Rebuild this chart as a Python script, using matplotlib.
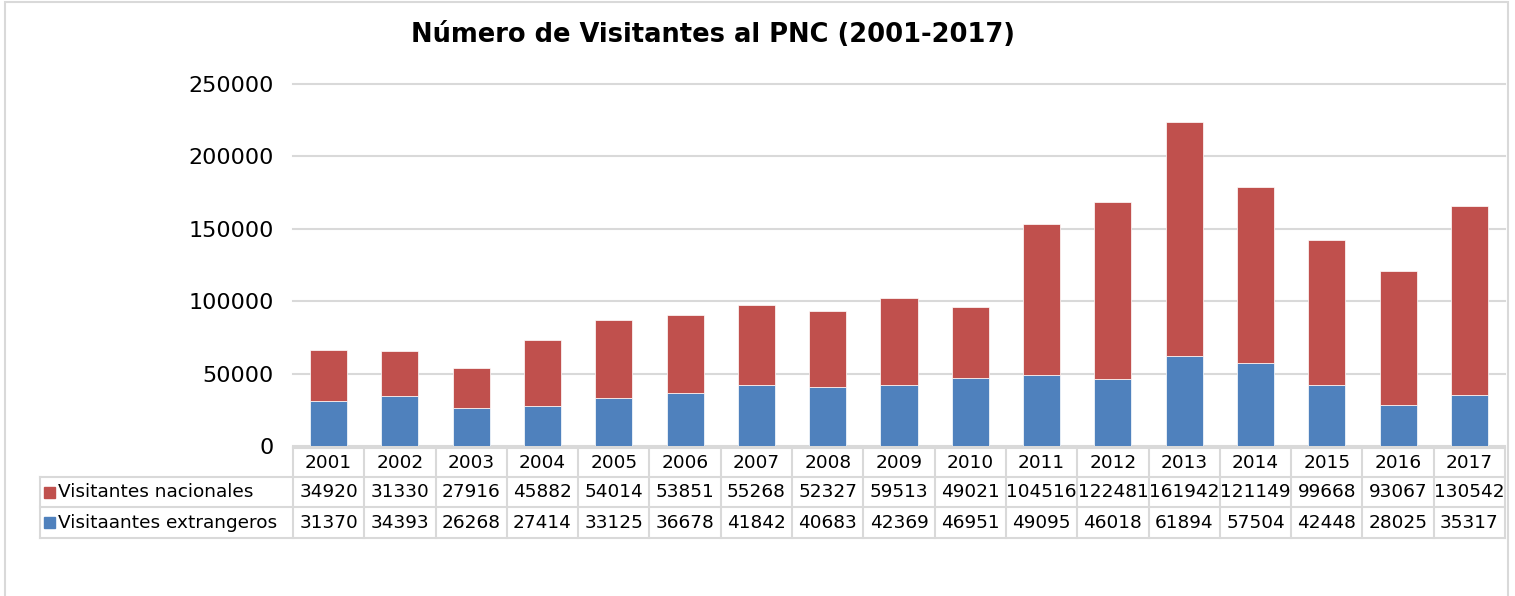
import matplotlib.pyplot as plt
import matplotlib.transforms as mtransforms
from matplotlib.patches import Rectangle
import numpy as np

years = ['2001', '2002', '2003', '2004', '2005', '2006', '2007', '2008', '2009',
         '2010', '2011', '2012', '2013', '2014', '2015', '2016', '2017']
nacionales = [34920, 31330, 27916, 45882, 54014, 53851, 55268, 52327, 59513,
              49021, 104516, 122481, 161942, 121149, 99668, 93067, 130542]
extranjeros = [31370, 34393, 26268, 27414, 33125, 36678, 41842, 40683, 42369,
               46951, 49095, 46018, 61894, 57504, 42448, 28025, 35317]
series_names = ['Visitantes nacionales', 'Visitaantes extrangeros']
y_ticks = [0, 50000, 100000, 150000, 200000, 250000]

RED = '#C0504D'
BLUE = '#4F81BD'
GRID = '#d9d9d9'

W, H = 1515, 596
fig = plt.figure(figsize=(W / 100, H / 100), dpi=100)
plt.rcParams['font.family'] = 'DejaVu Sans'

# Axes placed in pixel terms
left, right, bottom, top = 293, 1505, 446, 84
ax = fig.add_axes([left / W, 1 - bottom / H, (right - left) / W, (bottom - top) / H])

x = np.arange(len(years))
ax.bar(x, extranjeros, width=0.52, color=BLUE, edgecolor='white', linewidth=0.5, zorder=3)
ax.bar(x, nacionales, width=0.52, bottom=extranjeros, color=RED,
       edgecolor='white', linewidth=0.5, zorder=3)

ax.set_xlim(-0.5, len(years) - 0.5)
ax.set_ylim(0, 250000)
ax.set_yticks(y_ticks)
ax.set_yticklabels([str(v) for v in y_ticks], fontsize=16)
ax.tick_params(axis='y', length=0, pad=14)
ax.set_xticks([])
ax.grid(axis='y', color=GRID, linewidth=1.5, zorder=0)
for line in ax.get_ygridlines():
    line.set_clip_on(False)
for s in ax.spines.values():
    s.set_visible(False)

# Data table below the axes
ax_px = bottom - top
def yax(py):
    return (bottom - py) / ax_px

row_edges = [448, 477, 507, 538]
trans = mtransforms.blended_transform_factory(ax.transData, ax.transAxes)
lw = 1.5
label_left = (40 - left) / (right - left)

# horizontal lines
for i, py in enumerate(row_edges):
    if i == 0:
        ax.plot([-0.5, len(years) - 0.5], [yax(py)] * 2, color=GRID, lw=lw,
                transform=trans, clip_on=False)
    else:
        ax.plot([label_left, 1], [yax(py)] * 2, color=GRID, lw=lw,
                transform=ax.transAxes, clip_on=False)
# vertical lines
for i in range(len(years) + 1):
    ax.plot([i - 0.5] * 2, [yax(row_edges[0]), yax(row_edges[-1])], color=GRID,
            lw=lw, transform=trans, clip_on=False)
ax.plot([label_left] * 2, [yax(row_edges[1]), yax(row_edges[-1])], color=GRID,
        lw=lw, transform=ax.transAxes, clip_on=False)

# header and values
rows = [nacionales, extranjeros]
for i, yr in enumerate(years):
    ymid = yax((row_edges[0] + row_edges[1]) / 2)
    ax.text(i, ymid, yr, transform=trans, ha='center', va='center', fontsize=13.3)
    for r, vals in enumerate(rows):
        ymid = yax((row_edges[r + 1] + row_edges[r + 2]) / 2)
        ax.text(i, ymid, str(vals[i]), transform=trans, ha='center', va='center',
                fontsize=13.3)

# row labels with legend keys
for r, (name, col) in enumerate(zip(series_names, [RED, BLUE])):
    ymid = yax((row_edges[r + 1] + row_edges[r + 2]) / 2)
    kx = (44 - left) / (right - left)
    ksize_x = 11 / (right - left)
    ksize_y = 11 / ax_px
    ax.add_patch(Rectangle((kx, ymid - ksize_y / 2), ksize_x, ksize_y,
                           transform=ax.transAxes, color=col, clip_on=False))
    ax.text((58 - left) / (right - left), ymid, name, transform=ax.transAxes,
            ha='left', va='center', fontsize=13.3)

# title
fig.text(713 / W, 1 - 35 / H, 'Número de Visitantes al PNC (2001-2017)',
         ha='center', va='center', fontsize=18.5, fontweight='bold')

# outer frame
fig.add_artist(Rectangle((5 / W, -0.02), (1508 - 5) / W, 1 - 2 / H + 0.02,
                         transform=fig.transFigure, fill=False,
                         edgecolor=GRID, linewidth=1.5))

fig.savefig('out.png', dpi=100)
